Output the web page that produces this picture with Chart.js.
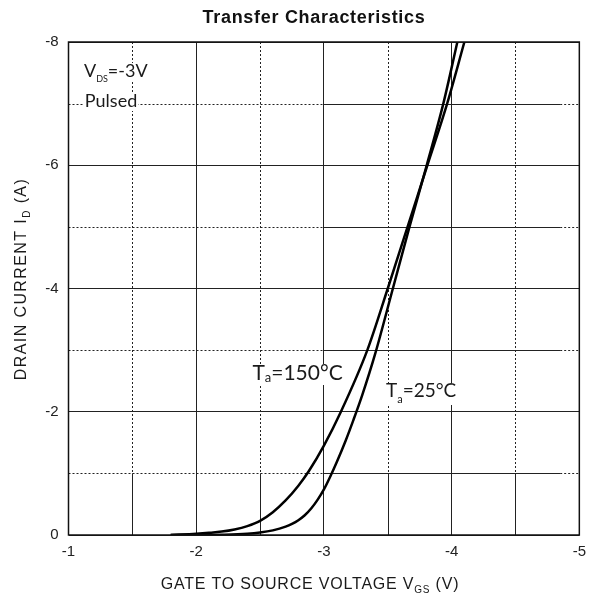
<!DOCTYPE html>
<html>
<head>
<meta charset="utf-8">
<script src="https://cdn.jsdelivr.net/npm/chart.js@4.4.1/dist/chart.umd.min.js"></script>
<style>
  html, body { margin: 0; padding: 0; background: #fff; }
</style>
</head>
<body>
<canvas id="chart" width="594" height="599"></canvas>
<script>
// Ta = 25°C
const vgs25 = [-1.80, -2.00, -2.20, -2.40, -2.50, -2.60, -2.70, -2.75, -2.80, -2.85, -2.90, -2.95, -3.00, -3.05, -3.10, -3.17, -3.23, -3.30, -3.40, -3.54, -3.67, -3.805, -3.935, -4.045];
const id25  = [0, 0, -0.005, -0.02, -0.04, -0.075, -0.135, -0.18, -0.24, -0.32, -0.43, -0.57, -0.74, -0.95, -1.18, -1.53, -1.86, -2.27, -2.93, -4.00, -5.00, -6.00, -7.00, -8.00];
// Ta = 150°C
const vgs150 = [-1.80, -2.00, -2.10, -2.20, -2.30, -2.40, -2.50, -2.60, -2.70, -2.80, -2.88, -3.00, -3.133, -3.34, -3.50, -3.655, -3.81, -3.965, -4.10];
const id150  = [0, -0.02, -0.035, -0.055, -0.09, -0.145, -0.23, -0.37, -0.56, -0.80, -1.03, -1.45, -2.00, -3.00, -4.00, -5.00, -6.00, -7.00, -8.00];

const xMin = -5, xMax = -1, yMin = -8, yMax = 0;

const axisFont = '"Liberation Sans", Arial, sans-serif';
const noteFont = 'Lato, "Open Sans", sans-serif';

function toPoints(xs, ys) {
  return xs.map((x, i) => ({ x: x, y: ys[i] }));
}

function seg(ctx, x1, y1, x2, y2, dash) {
  ctx.setLineDash(dash);
  ctx.beginPath();
  ctx.moveTo(x1, y1);
  ctx.lineTo(x2, y2);
  ctx.stroke();
}

function richWidth(ctx, parts) {
  let w = 0;
  parts.forEach(p => { ctx.font = p[1]; w += ctx.measureText(p[0]).width; });
  return w;
}

// draws runs of [text, font, dy], returns width
function drawRich(ctx, parts, x, y, bg) {
  const w = richWidth(ctx, parts);
  if (bg) {
    ctx.fillStyle = '#fff';
    ctx.fillRect(x - 1, y - bg[0], w + 2, bg[0] + bg[1]);
  }
  ctx.fillStyle = '#1a1a1a';
  let cx = x;
  parts.forEach(p => {
    ctx.font = p[1];
    ctx.fillText(p[0], cx, y + (p[2] || 0));
    cx += ctx.measureText(p[0]).width;
  });
  return w;
}

const isMajorX = v => Number.isInteger(v);
const isMajorY = v => v % 2 === 0;

// minor grid lines: dotted with solid pieces, like the datasheet
const halfGrid = {
  id: 'halfGrid',
  beforeDatasetsDraw(chart) {
    const { ctx, scales: { x, y } } = chart;
    ctx.save();
    ctx.strokeStyle = '#222';
    ctx.lineWidth = 1;
    x.ticks.filter(t => !isMajorX(t.value)).forEach(t => {
      const px = Math.round(x.getPixelForValue(t.value)) + 0.5;
      seg(ctx, px, y.getPixelForValue(yMin), px, y.getPixelForValue(-1), [2, 2]);
      seg(ctx, px, y.getPixelForValue(-1), px, y.getPixelForValue(yMax), []);
    });
    y.ticks.filter(t => !isMajorY(t.value)).forEach(t => {
      const py = Math.round(y.getPixelForValue(t.value)) + 0.5;
      seg(ctx, x.getPixelForValue(xMax), py, x.getPixelForValue(-3), py, [2, 2]);
      seg(ctx, x.getPixelForValue(-3), py, x.getPixelForValue(-4.85), py, []);
      seg(ctx, x.getPixelForValue(-4.85), py, x.getPixelForValue(xMin), py, [2, 2]);
    });
    ctx.restore();
  },
  afterDatasetsDraw(chart) {
    const { ctx, chartArea: a, scales: { x } } = chart;
    ctx.save();
    ctx.strokeStyle = '#111';
    ctx.lineWidth = 1.5;
    ctx.setLineDash([]);
    ctx.strokeRect(a.left, a.top, a.right - a.left, a.bottom - a.top);

    ctx.textBaseline = 'alphabetic';
    // notes inside the plot
    const big = '18px ' + noteFont, sub = '9px ' + noteFont;
    drawRich(ctx, [['V', big], ['DS', sub, 5], ['=-3V', big]], x.getPixelForValue(-1.121), 77, [14, 4]);
    drawRich(ctx, [['Pulsed', big]], x.getPixelForValue(-1.128), 107, [13, 4]);
    drawRich(ctx, [['T', '21px ' + noteFont], ['a', '13px ' + noteFont, 2], ['=150°C', '21px ' + noteFont]],
      x.getPixelForValue(-2.44), 380, [16, 5]);
    drawRich(ctx, [['T', '19px ' + noteFont], ['a', '11px ' + noteFont, 6], ['=25°C', '19px ' + noteFont]],
      x.getPixelForValue(-3.486), 397, [14, 8]);

    // title
    ctx.fillStyle = '#111';
    ctx.font = 'bold 18px ' + axisFont;
    ctx.letterSpacing = '0.7px';
    ctx.textAlign = 'center';
    ctx.fillText('Transfer Characteristics', 314, 23);
    ctx.textAlign = 'left';

    // x axis title
    ctx.letterSpacing = '0.8px';
    const xt = [['GATE TO SOURCE VOLTAGE V', '16px ' + axisFont], ['GS', '10px ' + axisFont, 4], [' (V)', '16px ' + axisFont]];
    const xw = richWidth(ctx, xt);
    drawRich(ctx, xt, 310 - xw / 2, 589);

    // y axis title
    ctx.letterSpacing = '1.4px';
    const yt = [['DRAIN CURRENT I', '16px ' + axisFont], ['D', '10px ' + axisFont, 4], [' (A)', '16px ' + axisFont]];
    const yw = richWidth(ctx, yt);
    ctx.save();
    ctx.translate(26, 279);
    ctx.rotate(-Math.PI / 2);
    drawRich(ctx, yt, -yw / 2, 0);
    ctx.restore();

    ctx.restore();
  }
};

const lineStyle = {
  showLine: true,
  borderColor: '#000',
  borderWidth: 2.5,
  pointRadius: 0,
  cubicInterpolationMode: 'monotone',
  fill: false
};

new Chart(document.getElementById('chart'), {
  type: 'scatter',
  data: {
    datasets: [
      Object.assign({ label: 'Ta=25°C', data: toPoints(vgs25, id25) }, lineStyle),
      Object.assign({ label: 'Ta=150°C', data: toPoints(vgs150, id150) }, lineStyle)
    ]
  },
  options: {
    responsive: false,
    animation: false,
    devicePixelRatio: 1,
    layout: { padding: { top: 42, right: 13, left: 0, bottom: 0 } },
    plugins: { legend: { display: false }, title: { display: false }, tooltip: { enabled: false } },
    scales: {
      x: {
        type: 'linear',
        reverse: true,
        min: xMin,
        max: xMax,
        afterFit(scale) { scale.height = 64; },
        ticks: {
          stepSize: 0.5,
          padding: 8,
          color: '#222',
          font: { family: axisFont, size: 15 },
          maxRotation: 0,
          autoSkip: false,
          callback: v => isMajorX(v) ? String(v) : ''
        },
        grid: {
          drawTicks: false,
          color: c => isMajorX(c.tick.value) ? '#222' : 'rgba(0,0,0,0)'
        },
        border: { display: false }
      },
      y: {
        type: 'linear',
        reverse: true,
        min: yMin,
        max: yMax,
        afterFit(scale) { scale.width = 68.5; },
        ticks: {
          stepSize: 1,
          padding: 10,
          color: '#222',
          font: { family: axisFont, size: 15 },
          autoSkip: false,
          callback: v => isMajorY(v) ? String(v) : ''
        },
        grid: {
          drawTicks: false,
          color: c => isMajorY(c.tick.value) ? '#222' : 'rgba(0,0,0,0)'
        },
        border: { display: false }
      }
    }
  },
  plugins: [halfGrid]
});
</script>
</body>
</html>
